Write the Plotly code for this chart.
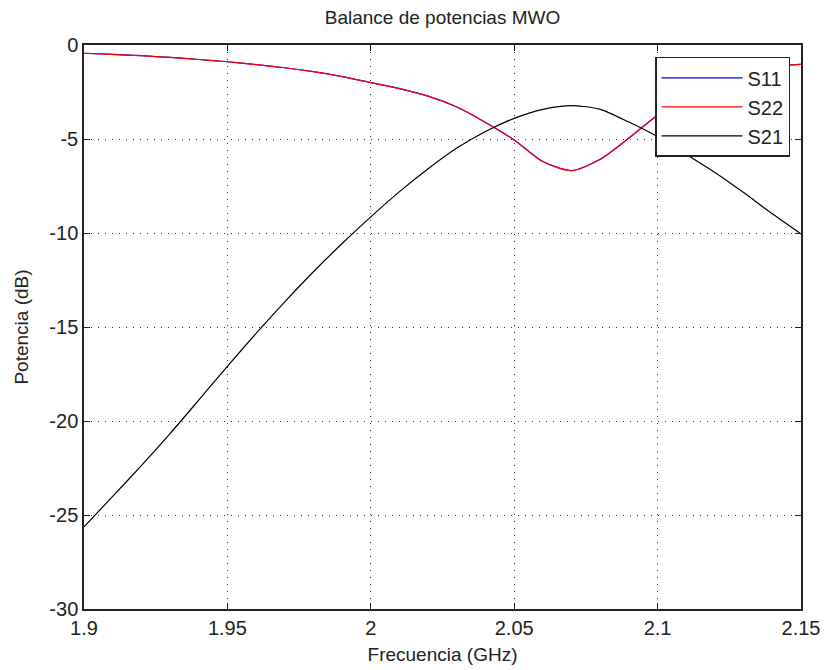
import plotly.graph_objects as go

freq = [1.90, 1.91, 1.92, 1.93, 1.94, 1.95, 1.96, 1.97, 1.98, 1.99,
        2.00, 2.01, 2.02, 2.03, 2.04, 2.05, 2.06, 2.07, 2.08, 2.09,
        2.10, 2.11, 2.12, 2.13, 2.14, 2.15]

s22 = [-0.44, -0.50, -0.57, -0.66, -0.77, -0.89, -1.04, -1.21, -1.42, -1.68,
       -2.00, -2.32, -2.72, -3.30, -4.12, -5.05, -6.20, -6.68, -6.08, -4.95,
       -3.72, -2.70, -1.90, -1.40, -1.12, -1.03]

s11 = list(s22)

s21 = [-25.63, -24.01, -22.37, -20.67, -18.89, -17.09, -15.34, -13.66, -12.06, -10.56,
       -9.14, -7.80, -6.58, -5.48, -4.60, -3.90, -3.42, -3.22, -3.42, -4.10,
       -4.88, -5.82, -6.78, -7.85, -8.98, -10.05]

names = ["S11", "S22", "S21"]
colors = ["#0000ff", "#ff0000", "#000000"]
series = [s11, s22, s21]

FONT = "Liberation Sans, Arial, sans-serif"

fig = go.Figure()
for n, c, s in zip(names, colors, series):
    fig.add_trace(go.Scatter(x=freq, y=s, mode="lines", name=n,
                             line=dict(color=c, width=1.2, shape="spline", smoothing=0.7)))

axis_common = dict(
    showline=True, linecolor="#222222", linewidth=1.5, mirror="ticks",
    ticks="inside", ticklen=6, tickcolor="#222222", tickwidth=1,
    showgrid=True, gridcolor="#333333", griddash="1px,6px", gridwidth=1,
    zeroline=False, automargin=False,
    tickfont=dict(family=FONT, size=20, color="#222222"),
)

fig.update_layout(
    width=825, height=670,
    margin=dict(l=84, r=24, t=45, b=61),
    paper_bgcolor="white", plot_bgcolor="white",
    font=dict(family=FONT, size=20, color="#222222"),
    title=dict(text="Balance de potencias MWO", x=0.5, xref="paper", xanchor="center",
               y=1 - 17 / 670, yanchor="middle", font=dict(family=FONT, size=19, color="#222222")),
    xaxis=dict(range=[1.9, 2.15], tickvals=[1.9, 1.95, 2.0, 2.05, 2.1, 2.15],
               ticktext=["1.9", "1.95", "2", "2.05", "2.1", "2.15"],
               title=dict(text="Frecuencia (GHz)", standoff=10,
                          font=dict(family=FONT, size=19, color="#222222")),
               **axis_common),
    yaxis=dict(range=[-30, 0], tickvals=[-30, -25, -20, -15, -10, -5, 0],
               ticktext=["-30", "-25", "-20", "-15", "-10", "-5", "0"],
               title=dict(text="Potencia (dB)", standoff=16,
                          font=dict(family=FONT, size=19, color="#222222")),
               **axis_common),
    legend=dict(x=0.9847, y=0.979, xanchor="right", yanchor="top",
                bgcolor="white", bordercolor="#222222", borderwidth=1.5,
                font=dict(family=FONT, size=20, color="#222222"),
                tracegroupgap=0, itemwidth=81),
    showlegend=True,
)

fig.write_html("out.html")
